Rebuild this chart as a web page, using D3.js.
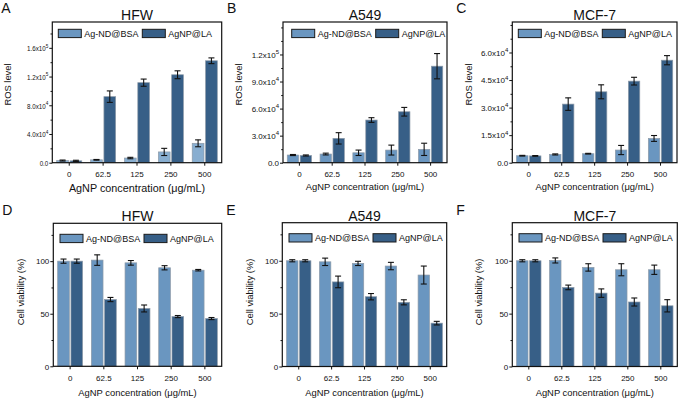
<!DOCTYPE html>
<html>
<head>
<meta charset="utf-8">
<script src="https://cdn.jsdelivr.net/npm/d3@7"></script>
<style>
body { margin: 0; background: #fff; }
text { font-family: Arial, "Liberation Sans", sans-serif; fill: #111; }
</style>
</head>
<body>
<svg id="fig" width="685" height="399"></svg>
<script>
var concentrations = ["0", "62.5", "125", "250", "500"];
var seriesNames = ["Ag-ND@BSA", "AgNP@LA"];
var cellLines = ["HFW", "A549", "MCF-7"];
var panelLetters = ["A", "B", "C", "D", "E", "F"];

// ROS level (top row)
var rosHfwBsa = [3000, 4000, 6500, 15000, 27000];
var rosHfwBsaErr = [700, 500, 1000, 5000, 4800];
var rosHfwLa = [2600, 92000, 111500, 122500, 142000];
var rosHfwLaErr = [800, 8000, 5000, 5500, 4000];

var rosA549Bsa = [8500, 9600, 11000, 14000, 14800];
var rosA549BsaErr = [600, 1000, 3000, 5500, 6800];
var rosA549La = [8000, 27000, 47300, 56500, 107000];
var rosA549LaErr = [600, 6300, 2600, 4800, 14000];

var rosMcfBsa = [3800, 4500, 4900, 6900, 13200];
var rosMcfBsaErr = [200, 300, 200, 2500, 1600];
var rosMcfLa = [3700, 31900, 38600, 44400, 55800];
var rosMcfLaErr = [200, 3400, 3800, 2100, 2500];

// cell viability (bottom row)
var vHfwBsa = [100, 101, 98.4, 93.7, 91.4];
var vHfwBsaErr = [2, 5, 2.2, 2, 0.7];
var vHfwLa = [100, 63.5, 55, 47.3, 45.4];
var vHfwLaErr = [2, 2, 3.3, 1, 1];

var vA549Bsa = [100, 99, 97.5, 95, 86.5];
var vA549BsaErr = [1, 3.5, 2, 3.5, 8.5];
var vA549La = [100, 80, 66, 60.7, 41];
var vA549LaErr = [1, 5.5, 3, 2.4, 1.7];

var vMcfBsa = [100, 100.3, 93.7, 91.5, 91.5];
var vMcfBsaErr = [1, 2.4, 3.5, 5.7, 4.4];
var vMcfLa = [100, 74.8, 69.4, 61, 57.4];
var vMcfLaErr = [1, 2.2, 4, 3.8, 5.8];

// axis ticks
var rosHfwTicks = [0, 40000, 80000, 120000, 160000];
var rosHfwMinor = [20000, 60000, 100000, 140000, 180000];
var rosA549Ticks = [0, 30000, 60000, 90000, 120000];
var rosA549Minor = [15000, 45000, 75000, 105000, 135000, 150000];
var rosMcfTicks = [0, 15000, 30000, 45000, 60000];
var rosMcfMinor = [7500, 22500, 37500, 52500, 67500, 75000];
var viabilityTicks = [0, 50, 100];
var viabilityMinor = [25, 75, 125];

var colors = ["#6a96c0", "#375f87"];

var panels = [
  { letter: 0, title: 0, yLabel: "ROS level", sci: true, yMax: 196000,
    bsa: rosHfwBsa, bsaErr: rosHfwBsaErr, la: rosHfwLa, laErr: rosHfwLaErr,
    ticks: rosHfwTicks, minor: rosHfwMinor, barBsa: "#88aed0",
    left: 52.3, right: 221.7, top: 22, bottom: 162.7, yTitleX: 7.3, labelScale: 0.78,
    xTitleSize: 10.8, xTitleY: 192, legendX: 58.3 },
  { letter: 1, title: 1, yLabel: "ROS level", sci: true, yMax: 156000,
    bsa: rosA549Bsa, bsaErr: rosA549BsaErr, la: rosA549La, laErr: rosA549LaErr,
    ticks: rosA549Ticks, minor: rosA549Minor, barBsa: colors[0],
    left: 283, right: 447, top: 22, bottom: 162.7, yTitleX: 238.8, labelScale: 1,
    xTitleSize: 9.4, xTitleY: 190, legendX: 291.7 },
  { letter: 2, title: 2, yLabel: "ROS level", sci: true, yMax: 76600,
    bsa: rosMcfBsa, bsaErr: rosMcfBsaErr, la: rosMcfLa, laErr: rosMcfLaErr,
    ticks: rosMcfTicks, minor: rosMcfMinor, barBsa: colors[0],
    left: 512.3, right: 677, top: 22, bottom: 162.7, yTitleX: 468.3, labelScale: 1,
    xTitleSize: 9.4, xTitleY: 190, legendX: 518.3 },
  { letter: 3, title: 0, yLabel: "Cell viability (%)", sci: false, yMax: 136,
    bsa: vHfwBsa, bsaErr: vHfwBsaErr, la: vHfwLa, laErr: vHfwLaErr,
    ticks: viabilityTicks, minor: viabilityMinor, barBsa: colors[0],
    left: 53.3, right: 221.7, top: 223.3, bottom: 366.3, yTitleX: 21, labelScale: 1,
    xTitleSize: 9.4, xTitleY: 396, legendX: 60 },
  { letter: 4, title: 1, yLabel: "Cell viability (%)", sci: false, yMax: 136,
    bsa: vA549Bsa, bsaErr: vA549BsaErr, la: vA549La, laErr: vA549LaErr,
    ticks: viabilityTicks, minor: viabilityMinor, barBsa: colors[0],
    left: 282.3, right: 446.7, top: 222.7, bottom: 366.5, yTitleX: 250, labelScale: 1,
    xTitleSize: 9.4, xTitleY: 396, legendX: 289 },
  { letter: 5, title: 2, yLabel: "Cell viability (%)", sci: false, yMax: 136,
    bsa: vMcfBsa, bsaErr: vMcfBsaErr, la: vMcfLa, laErr: vMcfLaErr,
    ticks: viabilityTicks, minor: viabilityMinor, barBsa: colors[0],
    left: 512.3, right: 677.3, top: 222.7, bottom: 366.5, yTitleX: 478.3, labelScale: 1,
    xTitleSize: 9.4, xTitleY: 396, legendX: 519 }
];

var svg = d3.select("#fig");

panels.forEach(function(p) {
  var g = svg.append("g");

  var x = d3.scaleBand()
    .domain(concentrations)
    .range([p.left, p.right])
    .paddingInner(0.26)
    .paddingOuter(0.13);

  var xs = d3.scaleBand()
    .domain(seriesNames)
    .range([0, x.bandwidth()])
    .paddingInner(0.12);

  var y = d3.scaleLinear()
    .domain([0, p.yMax])
    .range([p.bottom, p.top]);

  var rows = [];
  concentrations.forEach(function(c, i) {
    rows.push({ c: c, s: seriesNames[0], v: p.bsa[i], e: p.bsaErr[i], k: 0 });
    rows.push({ c: c, s: seriesNames[1], v: p.la[i], e: p.laErr[i], k: 1 });
  });

  // bars
  g.selectAll(".bar")
    .data(rows)
    .enter().append("rect")
    .attr("x", d => x(d.c) + xs(d.s))
    .attr("y", d => y(d.v))
    .attr("width", xs.bandwidth())
    .attr("height", d => y(0) - y(d.v))
    .attr("fill", d => d.k === 0 ? p.barBsa : colors[1])
    .attr("stroke", "#8d9aa8")
    .attr("stroke-width", 0.7);

  // error bars
  var eb = g.selectAll(".err")
    .data(rows)
    .enter().append("g")
    .attr("transform", d => "translate(" + (x(d.c) + xs(d.s) + xs.bandwidth() / 2) + ",0)")
    .attr("stroke", "#111")
    .attr("stroke-width", 1.1);
  eb.append("line")
    .attr("y1", d => y(d.v - d.e))
    .attr("y2", d => y(d.v + d.e));
  eb.append("line")
    .attr("x1", -3).attr("x2", 3)
    .attr("y1", d => y(d.v + d.e)).attr("y2", d => y(d.v + d.e));
  eb.append("line")
    .attr("x1", -3).attr("x2", 3)
    .attr("y1", d => y(d.v - d.e)).attr("y2", d => y(d.v - d.e));

  // x axis
  var xAxis = g.append("g")
    .attr("transform", "translate(0," + p.bottom + ")")
    .call(d3.axisBottom(x).tickSize(3).tickPadding(6));
  xAxis.select(".domain").remove();
  xAxis.selectAll("text").attr("font-size", 8).attr("font-family", "Arial, 'Liberation Sans', sans-serif").attr("fill", "#111");
  xAxis.selectAll("line").attr("stroke", "#111");

  // y axis, minor ticks
  var yMinor = g.append("g")
    .attr("transform", "translate(" + p.left + ",0)")
    .call(d3.axisLeft(y).tickValues(p.minor).tickSize(1.8).tickFormat(""));
  yMinor.select(".domain").remove();
  yMinor.selectAll("line").attr("stroke", "#111");

  // y axis, major ticks
  var yAxis = g.append("g")
    .attr("transform", "translate(" + p.left + ",0)")
    .call(d3.axisLeft(y).tickValues(p.ticks).tickSize(3).tickFormat(""));
  yAxis.select(".domain").remove();
  yAxis.selectAll("line").attr("stroke", "#111");
  yAxis.selectAll(".tick").each(function(d) {
    var t = d3.select(this).select("text")
      .attr("x", 0)
      .attr("dy", "0.34em")
      .attr("font-size", 8)
      .attr("font-family", "Arial, 'Liberation Sans', sans-serif")
      .attr("fill", "#111")
      .attr("text-anchor", "end")
      .attr("transform", "translate(-4,0) scale(" + p.labelScale + ",1)");
    if (!p.sci) {
      t.text(d);
    } else if (d === 0) {
      t.text("0.0");
    } else {
      var ex = Math.floor(Math.log10(d));
      var m = (d / Math.pow(10, ex)).toFixed(1);
      t.append("tspan").text(m + "x10");
      t.append("tspan").attr("dy", -3.5).attr("font-size", 6).text(ex);
    }
  });

  // frame
  g.append("rect")
    .attr("x", p.left).attr("y", p.top)
    .attr("width", p.right - p.left).attr("height", p.bottom - p.top)
    .attr("fill", "none")
    .attr("stroke", "#111")
    .attr("stroke-width", 1.2);

  // legend
  var leg = g.selectAll(".leg")
    .data(seriesNames)
    .enter().append("g")
    .attr("transform", (d, i) => "translate(" + (p.legendX + i * 84) + "," + (p.top + (p.top < 100 ? 7.3 : 11)) + ")");
  leg.append("rect")
    .attr("width", 23).attr("height", 8.3)
    .attr("fill", (d, i) => colors[i])
    .attr("stroke", "#1a1a1a")
    .attr("stroke-width", 1);
  leg.append("text")
    .attr("x", 26).attr("y", 4.2)
    .attr("dy", "0.35em")
    .attr("font-size", 9)
    .text(d => d);

  // titles
  g.append("text")
    .attr("x", (p.left + p.right) / 2)
    .attr("y", p.top - 2)
    .attr("text-anchor", "middle")
    .attr("font-size", 14)
    .text(cellLines[p.title]);

  g.append("text")
    .attr("x", p.left - (p.left < 100 ? 51 : 56))
    .attr("y", p.top < 100 ? 13.3 : 215)
    .attr("font-size", 14)
    .text(panelLetters[p.letter]);

  var yMid = p.top < 100 ? 84.5 : 292;
  g.append("text")
    .attr("transform", "translate(" + (p.yTitleX + 3.4) + "," + yMid + ") rotate(-90)")
    .attr("text-anchor", "middle")
    .attr("font-size", 9.4)
    .text(p.yLabel);

  g.append("text")
    .attr("x", (p.left + p.right) / 2)
    .attr("y", p.xTitleY)
    .attr("text-anchor", "middle")
    .attr("font-size", p.xTitleSize)
    .text("AgNP concentration  (μg/mL)");
});
</script>
</body>
</html>
